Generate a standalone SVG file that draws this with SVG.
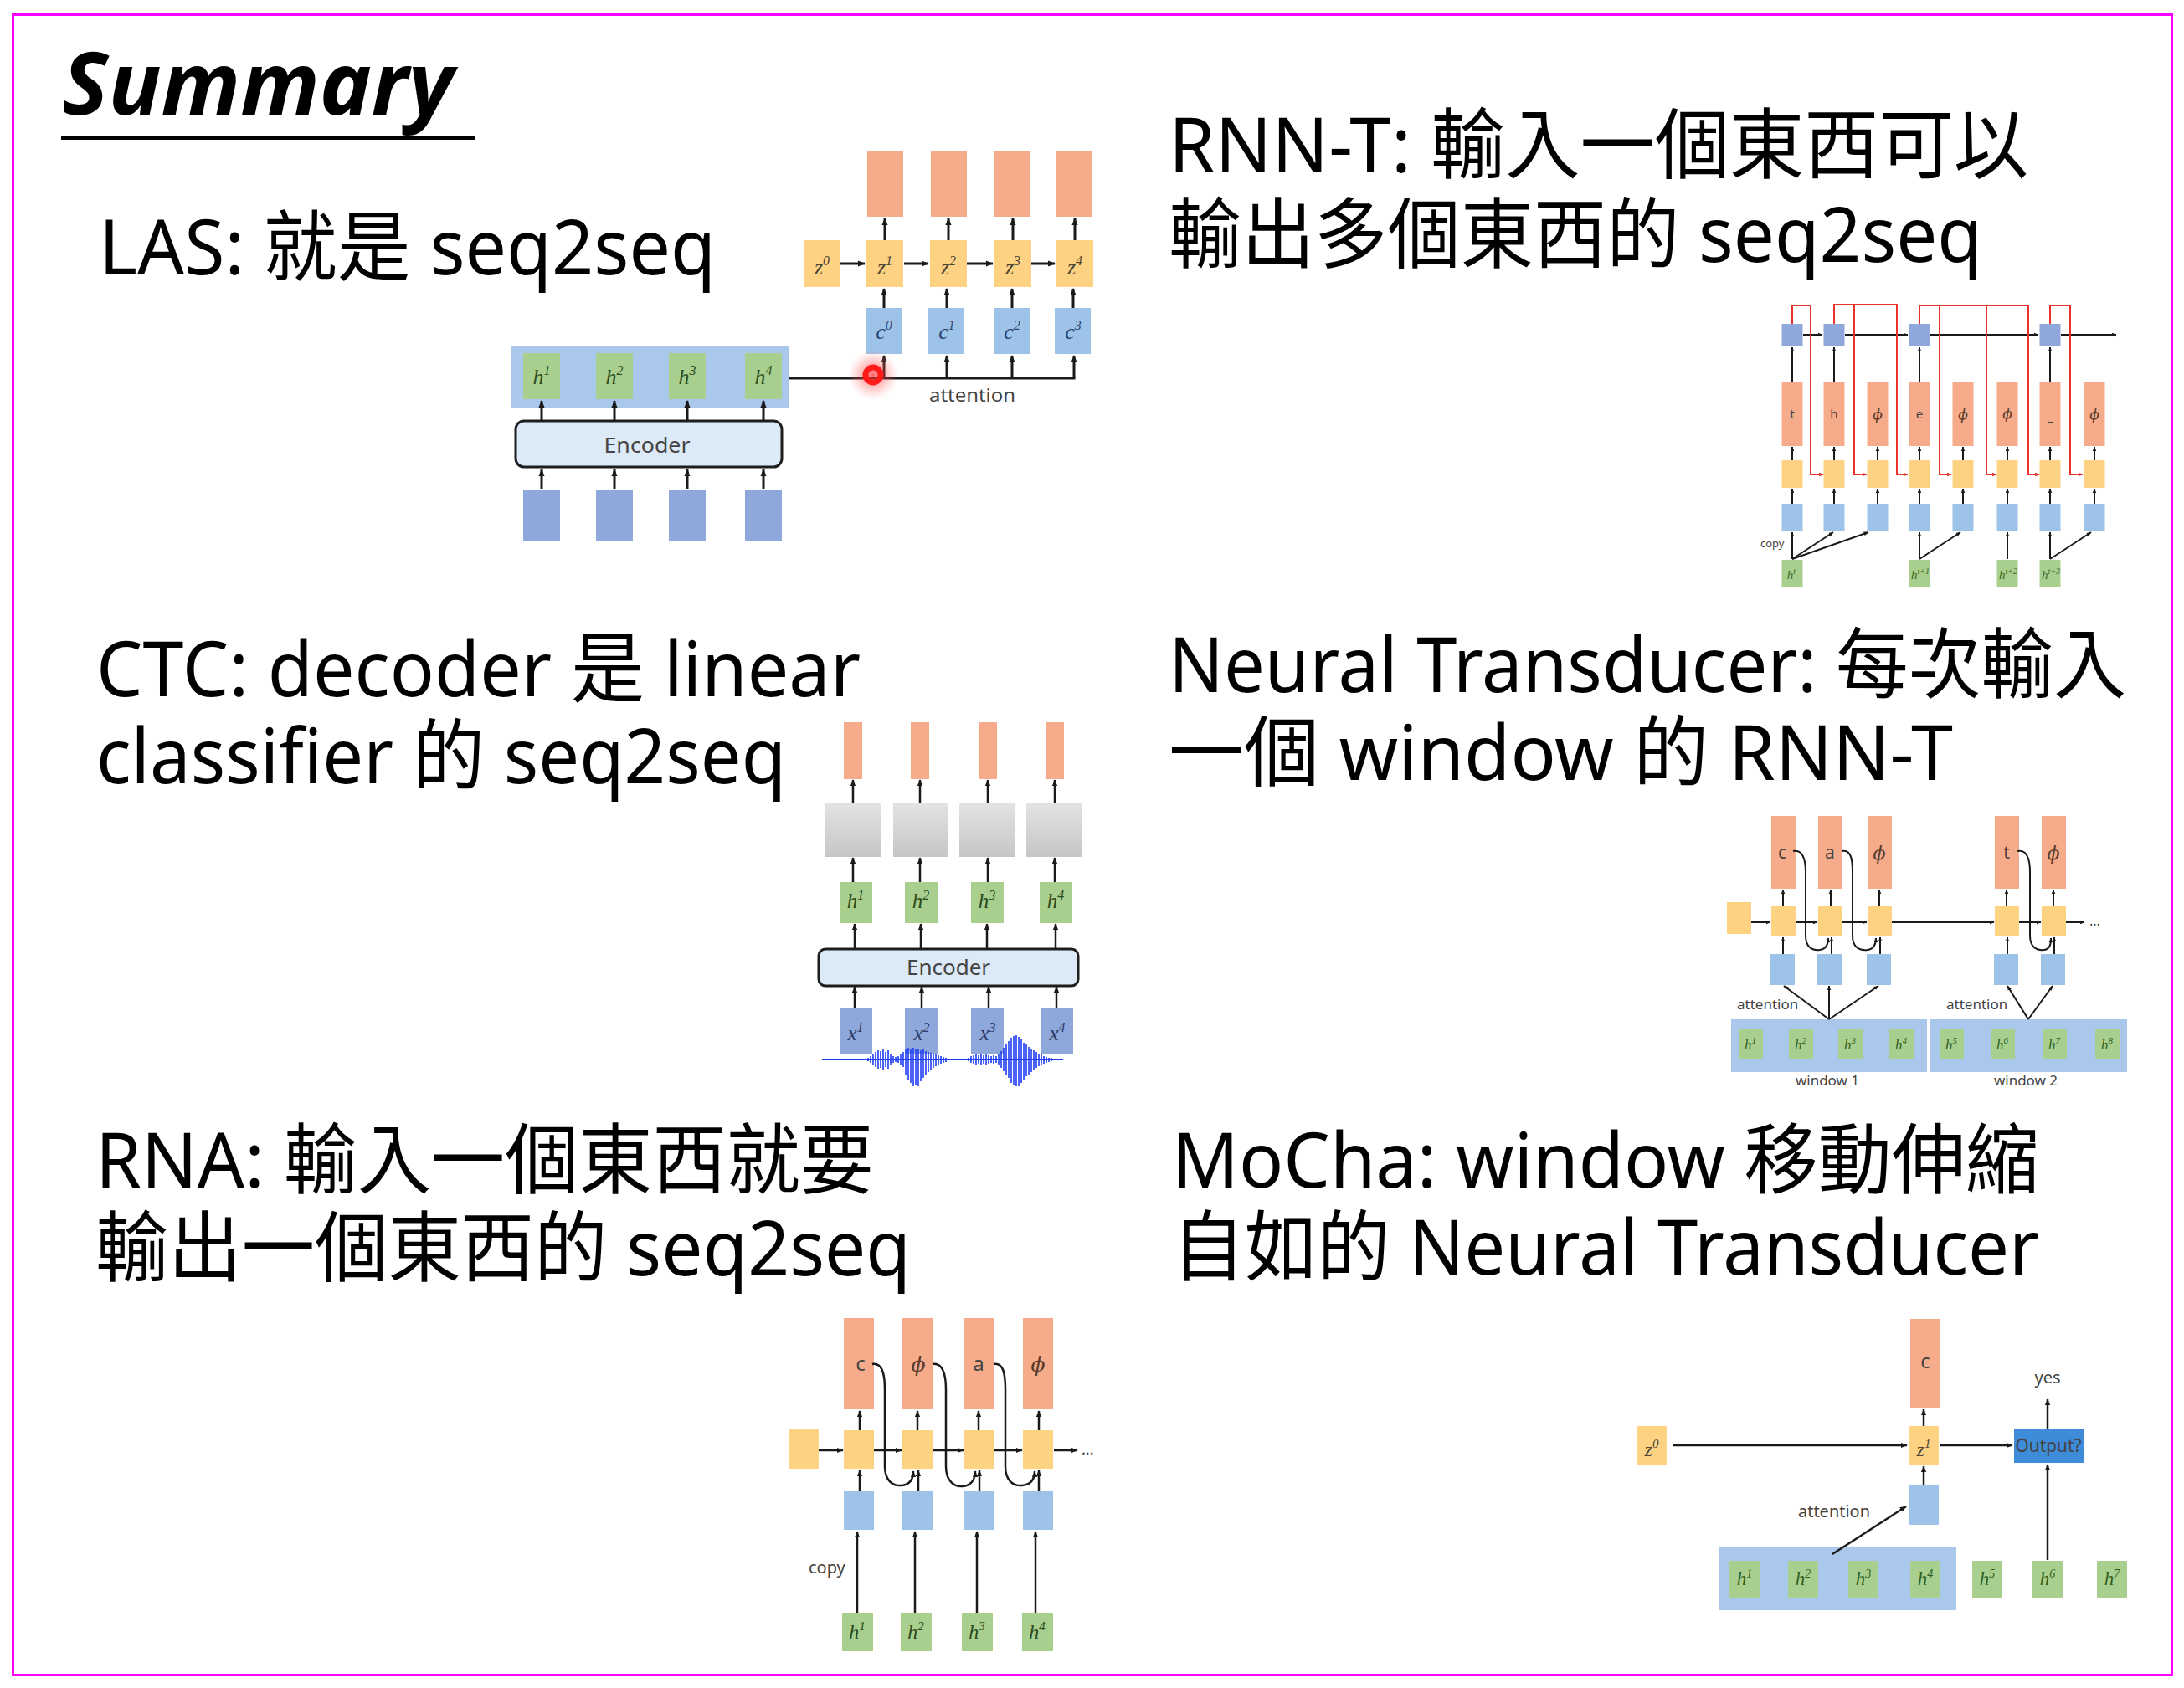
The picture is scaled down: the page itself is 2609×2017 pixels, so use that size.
<svg xmlns="http://www.w3.org/2000/svg" width="2609" height="2017" viewBox="0 0 2609 2017">
<style>
.o{fill:#f6ab8a}.y{fill:#fdd383}.b{fill:#9ec3e8}.g{fill:#a9cf8f}.p{fill:#8fa8dc}.w{fill:#a9c8ec}
.gr{fill:url(#gg)}
.ln{stroke:#1a1a1a;stroke-width:2.5;fill:none}
.lw{stroke:#1a1a1a;stroke-width:3;fill:none}
.lt{stroke:#1a1a1a;stroke-width:2;fill:none}
.r{stroke:#e8322b;stroke-width:2;fill:none}
.m{font-family:'Liberation Serif','DejaVu Serif',serif;font-style:italic;text-anchor:middle}
.ph{font-family:'DejaVu Serif','Liberation Serif',serif;font-style:italic;text-anchor:middle}
.t{font-family:'Noto Sans','Noto Sans CJK TC',sans-serif;font-size:92px;fill:#000}
.s{font-family:'Noto Sans','Open Sans',sans-serif;fill:#444}
.enc{fill:#dce9f6;stroke:#1e1e1e;stroke-width:3}
</style>
<defs>
<linearGradient id="gg" x1="0" y1="0" x2="0" y2="1"><stop offset="0" stop-color="#e3e3e3"/><stop offset="1" stop-color="#c6c6c6"/></linearGradient>
<radialGradient id="glow"><stop offset="0" stop-color="#ff2a2a" stop-opacity="0.7"/><stop offset="0.55" stop-color="#ff5050" stop-opacity="0.3"/><stop offset="1" stop-color="#ff8080" stop-opacity="0"/></radialGradient>
<marker id="a" viewBox="0 0 10 10" refX="9" refY="5" markerWidth="8" markerHeight="8" markerUnits="userSpaceOnUse" orient="auto"><path d="M0,1 L10,5 L0,9 z" fill="#1a1a1a"/></marker>
<marker id="al" viewBox="0 0 10 10" refX="9" refY="5" markerWidth="9" markerHeight="9" markerUnits="userSpaceOnUse" orient="auto"><path d="M0,1 L10,5 L0,9 z" fill="#1a1a1a"/></marker>
<marker id="as" viewBox="0 0 10 10" refX="9" refY="5" markerWidth="6" markerHeight="6" markerUnits="userSpaceOnUse" orient="auto"><path d="M0,1 L10,5 L0,9 z" fill="#1a1a1a"/></marker>
<marker id="ar" viewBox="0 0 10 10" refX="9" refY="5" markerWidth="6" markerHeight="6" markerUnits="userSpaceOnUse" orient="auto"><path d="M0,1 L10,5 L0,9 z" fill="#e8322b"/></marker>
</defs>
<rect x="0" y="0" width="2609" height="2017" fill="#fff"/>
<rect id="border" x="15.5" y="17.5" width="2579" height="1984" fill="none" stroke="#f0f" stroke-width="3"/>

<g id="titles">
<text x="74" y="137" font-family="'Noto Sans',sans-serif" font-size="104" font-weight="bold" font-style="italic" textLength="468" lengthAdjust="spacingAndGlyphs">Summary</text>
<rect x="73" y="163" width="494" height="4" fill="#000"/>
<text class="t" x="118" y="328" textLength="737" lengthAdjust="spacingAndGlyphs">LAS: 就是 seq2seq</text>
<text class="t" x="1396" y="206" textLength="1027" lengthAdjust="spacingAndGlyphs">RNN-T: 輸入一個東西可以</text>
<text class="t" x="1396" y="313" textLength="972" lengthAdjust="spacingAndGlyphs">輸出多個東西的 seq2seq</text>
<text class="t" x="115" y="832" textLength="913" lengthAdjust="spacingAndGlyphs">CTC: decoder 是 linear</text>
<text class="t" x="115" y="936" textLength="824" lengthAdjust="spacingAndGlyphs">classifier 的 seq2seq</text>
<text class="t" x="1396" y="827" textLength="1144" lengthAdjust="spacingAndGlyphs">Neural Transducer: 每次輸入</text>
<text class="t" x="1396" y="932" textLength="937" lengthAdjust="spacingAndGlyphs">一個 window 的 RNN-T</text>
<text class="t" x="114" y="1419" textLength="930" lengthAdjust="spacingAndGlyphs">RNA: 輸入一個東西就要</text>
<text class="t" x="114" y="1524" textLength="974" lengthAdjust="spacingAndGlyphs">輸出一個東西的 seq2seq</text>
<text class="t" x="1400" y="1419" textLength="1036" lengthAdjust="spacingAndGlyphs">MoCha: window 移動伸縮</text>
<text class="t" x="1400" y="1523" textLength="1036" lengthAdjust="spacingAndGlyphs">自如的 Neural Transducer</text>
</g>

<!-- LAS -->
<g id="las">
<g id="las-hcont"><rect class="w" x="611" y="413" width="332" height="75"/></g>
<g id="las-h1"><rect class="g" x="625" y="422" width="44" height="55"/><text class="m" x="647" y="459" font-size="26" fill="#2d4d1f">h<tspan dy="-11" font-size="16">1</tspan></text></g>
<g id="las-h2"><rect class="g" x="712" y="422" width="44" height="55"/><text class="m" x="734" y="459" font-size="26" fill="#2d4d1f">h<tspan dy="-11" font-size="16">2</tspan></text></g>
<g id="las-h3"><rect class="g" x="799" y="422" width="44" height="55"/><text class="m" x="821" y="459" font-size="26" fill="#2d4d1f">h<tspan dy="-11" font-size="16">3</tspan></text></g>
<g id="las-h4"><rect class="g" x="890" y="422" width="44" height="55"/><text class="m" x="912" y="459" font-size="26" fill="#2d4d1f">h<tspan dy="-11" font-size="16">4</tspan></text></g>
<g id="las-enc"><rect class="enc" x="616" y="503" width="318" height="55" rx="10"/><text class="s" x="773" y="541" font-size="25" fill="#222" text-anchor="middle" textLength="103" lengthAdjust="spacingAndGlyphs">Encoder</text></g>
<g id="las-in1"><rect class="p" x="625" y="585" width="44" height="62"/></g>
<g id="las-in2"><rect class="p" x="712" y="585" width="44" height="62"/></g>
<g id="las-in3"><rect class="p" x="799" y="585" width="44" height="62"/></g>
<g id="las-in4"><rect class="p" x="890" y="585" width="44" height="62"/></g>
<g id="las-o1"><rect class="o" x="1036" y="180" width="43" height="79"/></g>
<g id="las-o2"><rect class="o" x="1112" y="180" width="43" height="79"/></g>
<g id="las-o3"><rect class="o" x="1188" y="180" width="43" height="79"/></g>
<g id="las-o4"><rect class="o" x="1262" y="180" width="43" height="79"/></g>
<g id="las-z0"><rect class="y" x="960" y="287" width="44" height="56"/><text class="m" x="982" y="328" font-size="26" fill="#4d4433">z<tspan dy="-11" font-size="16">0</tspan></text></g>
<g id="las-z1"><rect class="y" x="1035" y="287" width="44" height="56"/><text class="m" x="1057" y="328" font-size="26" fill="#4d4433">z<tspan dy="-11" font-size="16">1</tspan></text></g>
<g id="las-z2"><rect class="y" x="1111" y="287" width="44" height="56"/><text class="m" x="1133" y="328" font-size="26" fill="#4d4433">z<tspan dy="-11" font-size="16">2</tspan></text></g>
<g id="las-z3"><rect class="y" x="1188" y="287" width="44" height="56"/><text class="m" x="1210" y="328" font-size="26" fill="#4d4433">z<tspan dy="-11" font-size="16">3</tspan></text></g>
<g id="las-z4"><rect class="y" x="1262" y="287" width="44" height="56"/><text class="m" x="1284" y="328" font-size="26" fill="#4d4433">z<tspan dy="-11" font-size="16">4</tspan></text></g>
<g id="las-c0"><rect class="b" x="1034" y="368" width="43" height="55"/><text class="m" x="1056" y="405" font-size="26" fill="#2b4673">c<tspan dy="-11" font-size="16">0</tspan></text></g>
<g id="las-c1"><rect class="b" x="1109" y="368" width="43" height="55"/><text class="m" x="1131" y="405" font-size="26" fill="#2b4673">c<tspan dy="-11" font-size="16">1</tspan></text></g>
<g id="las-c2"><rect class="b" x="1187" y="368" width="43" height="55"/><text class="m" x="1209" y="405" font-size="26" fill="#2b4673">c<tspan dy="-11" font-size="16">2</tspan></text></g>
<g id="las-c3"><rect class="b" x="1260" y="368" width="43" height="55"/><text class="m" x="1282" y="405" font-size="26" fill="#2b4673">c<tspan dy="-11" font-size="16">3</tspan></text></g>
<text class="s" x="1110" y="480" font-size="22" fill="#333" textLength="103" lengthAdjust="spacingAndGlyphs">attention</text>
</g>

<!-- RNN-T -->
<g id="rnnt">
<g id="rt-top0"><rect class="p" x="2128.5" y="387" width="25" height="27"/></g>
<g id="rt-top1"><rect class="p" x="2178.5" y="387" width="25" height="27"/></g>
<g id="rt-top3"><rect class="p" x="2280.5" y="387" width="25" height="27"/></g>
<g id="rt-top6"><rect class="p" x="2436.5" y="387" width="25" height="27"/></g>
<g id="rt-o0"><rect class="o" x="2128.5" y="457" width="25" height="76"/><text class="s" x="2141" y="500" font-size="15" fill="#5b3b2b" text-anchor="middle">t</text></g>
<g id="rt-o1"><rect class="o" x="2178.5" y="457" width="25" height="76"/><text class="s" x="2191" y="500" font-size="15" fill="#5b3b2b" text-anchor="middle">h</text></g>
<g id="rt-o2"><rect class="o" x="2230.5" y="457" width="25" height="76"/><text class="ph" x="2243" y="501" font-size="17" fill="#5b3b2b">ϕ</text></g>
<g id="rt-o3"><rect class="o" x="2280.5" y="457" width="25" height="76"/><text class="s" x="2293" y="500" font-size="15" fill="#5b3b2b" text-anchor="middle">e</text></g>
<g id="rt-o4"><rect class="o" x="2332.5" y="457" width="25" height="76"/><text class="ph" x="2345" y="501" font-size="17" fill="#5b3b2b">ϕ</text></g>
<g id="rt-o5"><rect class="o" x="2385.5" y="457" width="25" height="76"/><text class="ph" x="2398" y="500" font-size="17" fill="#5b3b2b">ϕ</text></g>
<g id="rt-o6"><rect class="o" x="2436.5" y="457" width="25" height="76"/><text class="s" x="2449" y="503" font-size="15" fill="#5b3b2b" text-anchor="middle">_</text></g>
<g id="rt-o7"><rect class="o" x="2489.5" y="457" width="25" height="76"/><text class="ph" x="2502" y="501" font-size="17" fill="#5b3b2b">ϕ</text></g>
<g id="rt-y0"><rect class="y" x="2128.5" y="550" width="25" height="33"/></g>
<g id="rt-y1"><rect class="y" x="2178.5" y="550" width="25" height="33"/></g>
<g id="rt-y2"><rect class="y" x="2230.5" y="550" width="25" height="33"/></g>
<g id="rt-y3"><rect class="y" x="2280.5" y="550" width="25" height="33"/></g>
<g id="rt-y4"><rect class="y" x="2332.5" y="550" width="25" height="33"/></g>
<g id="rt-y5"><rect class="y" x="2385.5" y="550" width="25" height="33"/></g>
<g id="rt-y6"><rect class="y" x="2436.5" y="550" width="25" height="33"/></g>
<g id="rt-y7"><rect class="y" x="2489.5" y="550" width="25" height="33"/></g>
<g id="rt-b0"><rect class="b" x="2128.5" y="602" width="25" height="33"/></g>
<g id="rt-b1"><rect class="b" x="2178.5" y="602" width="25" height="33"/></g>
<g id="rt-b2"><rect class="b" x="2230.5" y="602" width="25" height="33"/></g>
<g id="rt-b3"><rect class="b" x="2280.5" y="602" width="25" height="33"/></g>
<g id="rt-b4"><rect class="b" x="2332.5" y="602" width="25" height="33"/></g>
<g id="rt-b5"><rect class="b" x="2385.5" y="602" width="25" height="33"/></g>
<g id="rt-b6"><rect class="b" x="2436.5" y="602" width="25" height="33"/></g>
<g id="rt-b7"><rect class="b" x="2489.5" y="602" width="25" height="33"/></g>
<g id="rt-h0"><rect class="g" x="2128.5" y="669" width="25" height="33"/><text class="m" x="2140" y="692" font-size="15" fill="#3a6a28">h<tspan dy="-6" font-size="10">t</tspan></text></g>
<g id="rt-h3"><rect class="g" x="2280.5" y="669" width="25" height="33"/><text class="m" x="2294" y="692" font-size="15" fill="#3a6a28">h<tspan dy="-6" font-size="10">t+1</tspan></text></g>
<g id="rt-h5"><rect class="g" x="2385.5" y="669" width="25" height="33"/><text class="m" x="2399" y="692" font-size="15" fill="#3a6a28">h<tspan dy="-6" font-size="10">t+2</tspan></text></g>
<g id="rt-h6"><rect class="g" x="2436.5" y="669" width="25" height="33"/><text class="m" x="2450" y="692" font-size="15" fill="#3a6a28">h<tspan dy="-6" font-size="10">t+3</tspan></text></g>
<text class="s" x="2103" y="654" font-size="13" fill="#555">copy</text>
</g>

<!-- CTC -->
<g id="ctc">
<g id="ctc-o1"><rect class="o" x="1008" y="863" width="22" height="68"/></g>
<g id="ctc-o2"><rect class="o" x="1088" y="863" width="22" height="68"/></g>
<g id="ctc-o3"><rect class="o" x="1169" y="863" width="22" height="68"/></g>
<g id="ctc-o4"><rect class="o" x="1249" y="863" width="22" height="68"/></g>
<g id="ctc-g1"><rect class="gr" x="985" y="959" width="67" height="65"/></g>
<g id="ctc-g2"><rect class="gr" x="1067" y="959" width="66" height="65"/></g>
<g id="ctc-g3"><rect class="gr" x="1146" y="959" width="67" height="65"/></g>
<g id="ctc-g4"><rect class="gr" x="1226" y="959" width="66" height="65"/></g>
<g id="ctc-h1"><rect class="g" x="1003" y="1054" width="39" height="49"/><text class="m" x="1022" y="1085" font-size="25" fill="#2b4a1b">h<tspan dy="-10" font-size="16">1</tspan></text></g>
<g id="ctc-h2"><rect class="g" x="1081" y="1054" width="39" height="49"/><text class="m" x="1100" y="1085" font-size="25" fill="#2b4a1b">h<tspan dy="-10" font-size="16">2</tspan></text></g>
<g id="ctc-h3"><rect class="g" x="1160" y="1054" width="39" height="49"/><text class="m" x="1179" y="1085" font-size="25" fill="#2b4a1b">h<tspan dy="-10" font-size="16">3</tspan></text></g>
<g id="ctc-h4"><rect class="g" x="1242" y="1054" width="39" height="49"/><text class="m" x="1261" y="1085" font-size="25" fill="#2b4a1b">h<tspan dy="-10" font-size="16">4</tspan></text></g>
<g id="ctc-enc"><rect class="enc" x="978" y="1134" width="310" height="44" rx="8"/><text class="s" x="1133" y="1165" font-size="26" fill="#222" text-anchor="middle">Encoder</text></g>
<g id="ctc-x1"><rect class="p" x="1003" y="1204" width="39" height="55"/><text class="m" x="1022" y="1243" font-size="25" fill="#2c3a66">x<tspan dy="-10" font-size="16">1</tspan></text></g>
<g id="ctc-x2"><rect class="p" x="1081" y="1204" width="39" height="55"/><text class="m" x="1101" y="1243" font-size="25" fill="#2c3a66">x<tspan dy="-10" font-size="16">2</tspan></text></g>
<g id="ctc-x3"><rect class="p" x="1160" y="1204" width="39" height="55"/><text class="m" x="1180" y="1243" font-size="25" fill="#2c3a66">x<tspan dy="-10" font-size="16">3</tspan></text></g>
<g id="ctc-x4"><rect class="p" x="1243" y="1204" width="39" height="55"/><text class="m" x="1263" y="1243" font-size="25" fill="#2c3a66">x<tspan dy="-10" font-size="16">4</tspan></text></g>
<g id="ctc-wave" stroke="#1f3cf5" fill="none">
<path stroke-width="2" d="M982,1266 H1270"/>
<path stroke-width="1.6" d="M1037,1264V1268 M1040,1262V1270 M1043,1260V1272 M1046,1257V1275 M1049,1255V1277 M1052,1256V1276 M1055,1254V1278 M1058,1257V1275 M1061,1255V1277 M1064,1260V1272 M1067,1262V1270 M1070,1263V1269 M1073,1262V1270 M1076,1260V1272 M1079,1257V1275 M1082,1254V1284 M1085,1252V1290 M1088,1253V1294 M1091,1252V1298 M1094,1254V1296 M1097,1253V1298 M1100,1255V1292 M1103,1254V1288 M1106,1256V1284 M1109,1257V1281 M1112,1258V1278 M1115,1259V1276 M1118,1260V1274 M1121,1261V1272 M1124,1262V1271 M1127,1263V1270 M1130,1264V1269 M1157,1264V1268 M1160,1262V1270 M1163,1261V1271 M1166,1260V1272 M1169,1261V1271 M1172,1260V1272 M1175,1261V1271 M1178,1260V1272 M1181,1261V1271 M1184,1262V1270 M1187,1261V1271 M1190,1262V1270 M1193,1260V1272 M1196,1256V1276 M1199,1252V1280 M1202,1248V1284 M1205,1244V1288 M1208,1240V1294 M1211,1238V1296 M1214,1237V1298 M1217,1239V1298 M1220,1242V1294 M1223,1246V1290 M1226,1248V1286 M1229,1251V1284 M1232,1253V1281 M1235,1255V1278 M1238,1257V1276 M1241,1259V1274 M1244,1260V1272 M1247,1262V1271 M1250,1263V1270 M1253,1264V1269 M1256,1264V1268"/>
</g>
</g>

<!-- Neural Transducer -->
<g id="nt">
<g id="nt-w1"><rect class="w" x="2068" y="1218" width="234" height="63"/></g>
<g id="nt-w2"><rect class="w" x="2306" y="1218" width="235" height="63"/></g>
<g id="nt-o1"><rect class="o" x="2116" y="975" width="29" height="87"/><text class="s" x="2129" y="1026" font-size="21" fill="#5b3b2b" text-anchor="middle">c</text></g>
<g id="nt-o2"><rect class="o" x="2172" y="975" width="29" height="87"/><text class="s" x="2186" y="1026" font-size="21" fill="#5b3b2b" text-anchor="middle">a</text></g>
<g id="nt-o3"><rect class="o" x="2231" y="975" width="29" height="87"/><text class="ph" x="2245" y="1027" font-size="22" fill="#5b3b2b">ϕ</text></g>
<g id="nt-o4"><rect class="o" x="2383" y="975" width="29" height="87"/><text class="s" x="2397" y="1026" font-size="21" fill="#5b3b2b" text-anchor="middle">t</text></g>
<g id="nt-o5"><rect class="o" x="2439" y="975" width="29" height="87"/><text class="ph" x="2453" y="1027" font-size="22" fill="#5b3b2b">ϕ</text></g>
<g id="nt-y0"><rect class="y" x="2063" y="1078" width="29" height="38"/></g>
<g id="nt-y1"><rect class="y" x="2116" y="1082" width="29" height="37"/></g>
<g id="nt-y2"><rect class="y" x="2172" y="1082" width="29" height="37"/></g>
<g id="nt-y3"><rect class="y" x="2231" y="1082" width="29" height="37"/></g>
<g id="nt-y4"><rect class="y" x="2383" y="1082" width="29" height="37"/></g>
<g id="nt-y5"><rect class="y" x="2439" y="1082" width="29" height="37"/></g>
<g id="nt-b1"><rect class="b" x="2115" y="1140" width="29" height="37"/></g>
<g id="nt-b2"><rect class="b" x="2171" y="1140" width="29" height="37"/></g>
<g id="nt-b3"><rect class="b" x="2230" y="1140" width="29" height="37"/></g>
<g id="nt-b4"><rect class="b" x="2382" y="1140" width="29" height="37"/></g>
<g id="nt-b5"><rect class="b" x="2438" y="1140" width="29" height="37"/></g>
<g id="nt-h1"><rect class="g" x="2077" y="1229" width="29" height="36"/><text class="m" x="2091" y="1254" font-size="17" fill="#2f5f20">h<tspan dy="-7" font-size="11">1</tspan></text></g>
<g id="nt-h2"><rect class="g" x="2137" y="1229" width="29" height="36"/><text class="m" x="2151" y="1254" font-size="17" fill="#2f5f20">h<tspan dy="-7" font-size="11">2</tspan></text></g>
<g id="nt-h3"><rect class="g" x="2196" y="1229" width="29" height="36"/><text class="m" x="2210" y="1254" font-size="17" fill="#2f5f20">h<tspan dy="-7" font-size="11">3</tspan></text></g>
<g id="nt-h4"><rect class="g" x="2257" y="1229" width="29" height="36"/><text class="m" x="2271" y="1254" font-size="17" fill="#2f5f20">h<tspan dy="-7" font-size="11">4</tspan></text></g>
<g id="nt-h5"><rect class="g" x="2317" y="1229" width="29" height="36"/><text class="m" x="2331" y="1254" font-size="17" fill="#2f5f20">h<tspan dy="-7" font-size="11">5</tspan></text></g>
<g id="nt-h6"><rect class="g" x="2378" y="1229" width="29" height="36"/><text class="m" x="2392" y="1254" font-size="17" fill="#2f5f20">h<tspan dy="-7" font-size="11">6</tspan></text></g>
<g id="nt-h7"><rect class="g" x="2440" y="1229" width="29" height="36"/><text class="m" x="2454" y="1254" font-size="17" fill="#2f5f20">h<tspan dy="-7" font-size="11">7</tspan></text></g>
<g id="nt-h8"><rect class="g" x="2503" y="1229" width="29" height="36"/><text class="m" x="2517" y="1254" font-size="17" fill="#2f5f20">h<tspan dy="-7" font-size="11">8</tspan></text></g>
<text class="s" x="2075" y="1206" font-size="17">attention</text>
<text class="s" x="2325" y="1206" font-size="17">attention</text>
<text class="s" x="2183" y="1297" font-size="17" text-anchor="middle">window 1</text>
<text class="s" x="2420" y="1297" font-size="17" text-anchor="middle">window 2</text>
<text class="s" x="2496" y="1106" font-size="16" fill="#333">...</text>
</g>

<!-- RNA -->
<g id="rna">
<g id="rna-o1"><rect class="o" x="1008" y="1575" width="36" height="109"/><text class="s" x="1028" y="1638" font-size="24" fill="#5b3b2b" text-anchor="middle">c</text></g>
<g id="rna-o2"><rect class="o" x="1078" y="1575" width="36" height="109"/><text class="ph" x="1097" y="1639" font-size="25" fill="#5b3b2b">ϕ</text></g>
<g id="rna-o3"><rect class="o" x="1152" y="1575" width="36" height="109"/><text class="s" x="1169" y="1638" font-size="24" fill="#5b3b2b" text-anchor="middle">a</text></g>
<g id="rna-o4"><rect class="o" x="1222" y="1575" width="36" height="109"/><text class="ph" x="1240" y="1639" font-size="25" fill="#5b3b2b">ϕ</text></g>
<g id="rna-y0"><rect class="y" x="942" y="1708" width="36" height="47"/></g>
<g id="rna-y1"><rect class="y" x="1008" y="1709" width="36" height="46"/></g>
<g id="rna-y2"><rect class="y" x="1078" y="1709" width="36" height="46"/></g>
<g id="rna-y3"><rect class="y" x="1152" y="1709" width="36" height="46"/></g>
<g id="rna-y4"><rect class="y" x="1222" y="1709" width="36" height="46"/></g>
<g id="rna-b1"><rect class="b" x="1008" y="1782" width="36" height="46"/></g>
<g id="rna-b2"><rect class="b" x="1078" y="1782" width="36" height="46"/></g>
<g id="rna-b3"><rect class="b" x="1151" y="1782" width="36" height="46"/></g>
<g id="rna-b4"><rect class="b" x="1222" y="1782" width="36" height="46"/></g>
<g id="rna-h1"><rect class="g" x="1006" y="1927" width="37" height="46"/><text class="m" x="1024" y="1958" font-size="24" fill="#2b4a1b">h<tspan dy="-10" font-size="15">1</tspan></text></g>
<g id="rna-h2"><rect class="g" x="1076" y="1927" width="37" height="46"/><text class="m" x="1094" y="1958" font-size="24" fill="#2b4a1b">h<tspan dy="-10" font-size="15">2</tspan></text></g>
<g id="rna-h3"><rect class="g" x="1149" y="1927" width="37" height="46"/><text class="m" x="1167" y="1958" font-size="24" fill="#2b4a1b">h<tspan dy="-10" font-size="15">3</tspan></text></g>
<g id="rna-h4"><rect class="g" x="1221" y="1927" width="37" height="46"/><text class="m" x="1239" y="1958" font-size="24" fill="#2b4a1b">h<tspan dy="-10" font-size="15">4</tspan></text></g>
<text class="s" x="966" y="1880" font-size="20">copy</text>
<text class="s" x="1292" y="1738" font-size="18" fill="#333">...</text>
</g>

<!-- MoCha -->
<g id="mocha">
<g id="mc-cont"><rect class="w" x="2053" y="1849" width="284" height="75"/></g>
<g id="mc-o"><rect class="o" x="2282" y="1576" width="35" height="106"/><text class="s" x="2300" y="1635" font-size="24" fill="#5b3b2b" text-anchor="middle">c</text></g>
<g id="mc-z0"><rect class="y" x="1955" y="1704" width="36" height="47"/><text class="m" x="1973" y="1740" font-size="24" fill="#4d4433">z<tspan dy="-10" font-size="15">0</tspan></text></g>
<g id="mc-z1"><rect class="y" x="2280" y="1704" width="36" height="46"/><text class="m" x="2298" y="1740" font-size="24" fill="#4d4433">z<tspan dy="-10" font-size="15">1</tspan></text></g>
<g id="mc-b"><rect class="b" x="2280" y="1775" width="36" height="47"/></g>
<g id="mc-out"><rect x="2406" y="1707" width="83" height="41" fill="#3d8bd9"/><text class="s" x="2447" y="1735" font-size="22" fill="#fff" text-anchor="middle" textLength="79" lengthAdjust="spacingAndGlyphs">Output?</text></g>
<g id="mc-h1"><rect class="g" x="2066" y="1865" width="36" height="44"/><text class="m" x="2084" y="1894" font-size="23" fill="#2f5f20">h<tspan dy="-9" font-size="14">1</tspan></text></g>
<g id="mc-h2"><rect class="g" x="2136" y="1865" width="36" height="44"/><text class="m" x="2154" y="1894" font-size="23" fill="#2f5f20">h<tspan dy="-9" font-size="14">2</tspan></text></g>
<g id="mc-h3"><rect class="g" x="2208" y="1865" width="36" height="44"/><text class="m" x="2226" y="1894" font-size="23" fill="#2f5f20">h<tspan dy="-9" font-size="14">3</tspan></text></g>
<g id="mc-h4"><rect class="g" x="2282" y="1865" width="36" height="44"/><text class="m" x="2300" y="1894" font-size="23" fill="#2f5f20">h<tspan dy="-9" font-size="14">4</tspan></text></g>
<g id="mc-h5"><rect class="g" x="2356" y="1865" width="36" height="44"/><text class="m" x="2374" y="1894" font-size="23" fill="#2f5f20">h<tspan dy="-9" font-size="14">5</tspan></text></g>
<g id="mc-h6"><rect class="g" x="2428" y="1865" width="36" height="44"/><text class="m" x="2446" y="1894" font-size="23" fill="#2f5f20">h<tspan dy="-9" font-size="14">6</tspan></text></g>
<g id="mc-h7"><rect class="g" x="2505" y="1865" width="36" height="44"/><text class="m" x="2523" y="1894" font-size="23" fill="#2f5f20">h<tspan dy="-9" font-size="14">7</tspan></text></g>
<text class="s" x="2148" y="1813" font-size="20" textLength="86" lengthAdjust="spacingAndGlyphs">attention</text>
<text class="s" x="2446" y="1653" font-size="20" text-anchor="middle">yes</text>
</g>

<g id="connectors">
<!-- LAS -->
<g class="lw" marker-end="url(#al)">
<path d="M1057,287V261"/><path d="M1133,287V261"/><path d="M1210,287V261"/><path d="M1284,287V261"/>
<path d="M1056,368V345"/><path d="M1131,368V345"/><path d="M1209,368V345"/><path d="M1282,368V345"/>
<path d="M1004,315H1033"/><path d="M1080,315H1109"/><path d="M1155,315H1186"/><path d="M1232,315H1260"/>
<path d="M1056,452V425"/><path d="M1131,452V425"/><path d="M1209,452V425"/><path d="M1283,452V425"/>
<path d="M647,503V479"/><path d="M734,503V479"/><path d="M821,503V479"/><path d="M912,503V479"/>
<path d="M647,584V561"/><path d="M734,584V561"/><path d="M821,584V561"/><path d="M912,584V561"/>
</g>
<path class="lw" d="M943,452H1284.5"/>
<!-- RNN-T -->
<g class="lt" marker-end="url(#as)">
<path d="M2154,400H2177"/><path d="M2204,400H2279"/><path d="M2306,400H2435"/><path d="M2462,400H2528"/>
<path d="M2141,457V415"/><path d="M2191,457V415"/><path d="M2293,457V415"/><path d="M2449,457V415"/>
<path d="M2141,550V534"/><path d="M2191,550V534"/><path d="M2243,550V534"/><path d="M2293,550V534"/><path d="M2345,550V534"/><path d="M2398,550V534"/><path d="M2449,550V534"/><path d="M2502,550V534"/>
<path d="M2141,602V584"/><path d="M2191,602V584"/><path d="M2243,602V584"/><path d="M2293,602V584"/><path d="M2345,602V584"/><path d="M2398,602V584"/><path d="M2449,602V584"/><path d="M2502,602V584"/>
<path d="M2141,668V636"/><path d="M2141,668L2190,636"/><path d="M2141,668L2232,636"/>
<path d="M2293,668V636"/><path d="M2293,668L2342,636"/>
<path d="M2398,668V636"/>
<path d="M2449,668V636"/><path d="M2449,668L2498,636"/>
</g>
<g class="r" marker-end="url(#ar)">
<path d="M2141,387V365H2163V567H2178"/>
<path d="M2191,387V364H2266V567H2279"/>
<path d="M2215,364V567H2230"/>
<path d="M2293,387V365H2423V567H2436"/>
<path d="M2317,365V567H2331"/>
<path d="M2373,365V567H2385"/>
<path d="M2449,387V365H2473V567H2488"/>
</g>
<!-- CTC -->
<g class="ln" marker-end="url(#a)">
<path d="M1019,959V932"/><path d="M1099,959V932"/><path d="M1180,959V932"/><path d="M1260,959V932"/>
<path d="M1019,1054V1025"/><path d="M1099,1054V1025"/><path d="M1180,1054V1025"/><path d="M1260,1054V1025"/>
<path d="M1021,1134V1104"/><path d="M1100,1134V1104"/><path d="M1179,1134V1104"/><path d="M1261,1134V1104"/>
<path d="M1021,1204V1179"/><path d="M1101,1204V1179"/><path d="M1181,1204V1179"/><path d="M1262,1204V1179"/>
</g>
<!-- NT -->
<g class="lt" marker-end="url(#as)">
<path d="M2130,1082V1063"/><path d="M2187,1082V1063"/><path d="M2245,1082V1063"/><path d="M2397,1082V1063"/><path d="M2453,1082V1063"/>
<path d="M2130,1140V1120"/><path d="M2188,1140V1120"/><path d="M2246,1140V1120"/><path d="M2398,1140V1120"/><path d="M2454,1140V1120"/>
<path d="M2092,1102H2115"/><path d="M2145,1102H2171"/><path d="M2201,1102H2230"/><path d="M2260,1102H2382"/><path d="M2412,1102H2438"/><path d="M2468,1102H2490"/>
<path d="M2185,1218L2131,1178"/><path d="M2185,1218V1178"/><path d="M2185,1218L2244,1178"/>
<path d="M2423,1218L2398,1178"/><path d="M2423,1218L2452,1178"/>
<path d="M2142,1017C2153,1015 2157,1026 2157,1042V1118C2157,1133 2166,1136 2174,1135C2182,1134 2184,1128 2184,1121"/>
<path d="M2200,1017C2211,1015 2213,1026 2213,1042V1118C2213,1133 2222,1136 2231,1135C2239,1134 2241,1128 2241,1121"/>
<path d="M2410,1017C2421,1015 2425,1026 2425,1042V1118C2425,1133 2434,1136 2442,1135C2449,1134 2450,1128 2450,1121"/>
</g>
<!-- RNA -->
<g class="ln" marker-end="url(#a)">
<path d="M1027,1709V1686"/><path d="M1096,1709V1686"/><path d="M1169,1709V1686"/><path d="M1241,1709V1686"/>
<path d="M1027,1782V1757"/><path d="M1097,1782V1757"/><path d="M1170,1782V1757"/><path d="M1241,1782V1757"/>
<path d="M978,1733H1007"/><path d="M1044,1733H1077"/><path d="M1114,1733H1151"/><path d="M1188,1733H1221"/><path d="M1259,1733H1287"/>
<path d="M1024,1927V1830"/><path d="M1093,1927V1830"/><path d="M1167,1927V1830"/><path d="M1237,1927V1830"/>
<path d="M1042,1630C1053,1628 1057,1640 1057,1660V1752C1057,1770 1067,1776 1077,1775C1087,1774 1091,1768 1091,1758"/>
<path d="M1114,1630C1125,1628 1130,1640 1130,1660V1752C1130,1770 1140,1777 1150,1776C1160,1775 1165,1768 1165,1758"/>
<path d="M1187,1630C1198,1628 1201,1640 1201,1660V1752C1201,1770 1211,1776 1221,1775C1231,1774 1236,1768 1236,1758"/>
</g>
<!-- MoCha -->
<g class="ln" marker-end="url(#a)">
<path d="M1998,1727H2278"/><path d="M2317,1727H2404"/>
<path d="M2446,1707V1672"/><path d="M2446,1864V1750"/>
<path d="M2298,1704V1684"/><path d="M2298,1775V1752"/>
<path d="M2189,1857L2277,1800"/>
</g>
</g>

<g id="las-pointer">
<circle cx="1043" cy="448" r="30" fill="url(#glow)"/>
<circle cx="1043" cy="448" r="9" fill="none" stroke="#ff1a1a" stroke-width="7"/>
</g>
</svg>
